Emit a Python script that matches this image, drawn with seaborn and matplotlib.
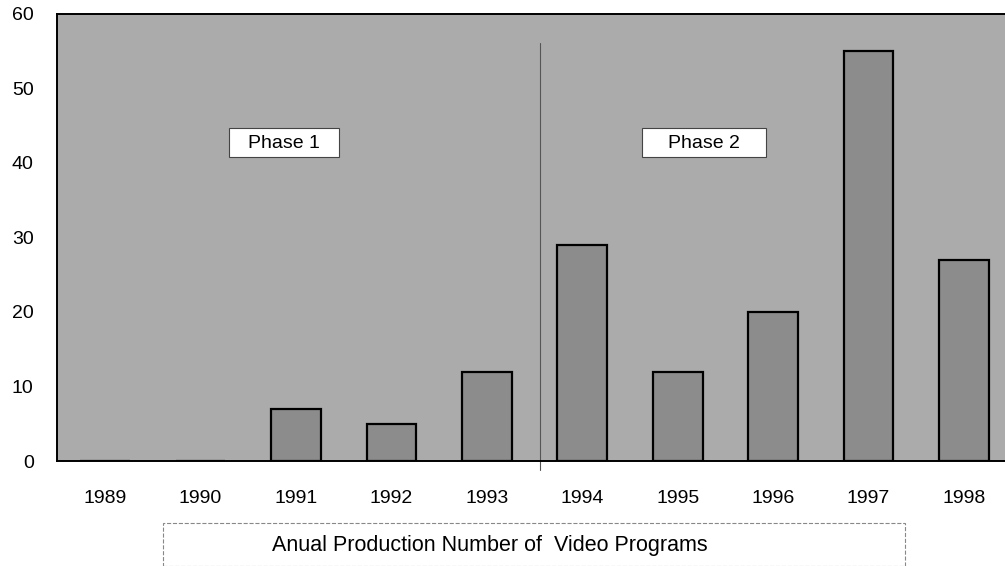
import seaborn as sns
import matplotlib.pyplot as plt
import matplotlib.patches as mpatches
import pandas

years = ['1989', '1990', '1991', '1992', '1993', '1994', '1995', '1996', '1997', '1998']
programs = [0, 0, 7, 5, 12, 29, 12, 20, 55, 27]

sns.set_style('white')
plt.rcParams['font.family'] = ['Liberation Sans', 'DejaVu Sans']
plt.rcParams['text.color'] = 'black'
plt.rcParams['xtick.color'] = 'black'
plt.rcParams['ytick.color'] = 'black'

df = pandas.DataFrame({'year': years, 'programs': programs})

fig = plt.figure(figsize=(10.05, 5.66), dpi=100)
ax = fig.add_axes([0.057, 0.1855, 0.945, 0.79])
ax.set_facecolor('#ababab')

sns.barplot(data=df, x='year', y='programs', order=years, color='#8c8c8c',
            saturation=1, width=0.52, edgecolor='black', linewidth=1.6, ax=ax)

ax.set_xlim(-0.5, 9.45)
ax.set_ylim(0, 60)
ax.set_yticks(range(0, 61, 10))
ax.tick_params(axis='both', length=0, labelsize=14, labelcolor='black')
ax.tick_params(axis='y', pad=17)
ax.tick_params(axis='x', pad=21)
ax.set_xlabel('')
ax.set_ylabel('')
for s in ['left', 'top', 'bottom']:
    ax.spines[s].set_color('black')
    ax.spines[s].set_linewidth(1.4)
ax.spines['right'].set_visible(False)

# phase divider
ax.axvline(4.56, ymin=-0.02, ymax=0.935, color='#555555', linewidth=0.8, clip_on=False)

# phase labels
for x0, x1, label in [(1.296, 2.45, 'Phase 1'), (5.63, 6.93, 'Phase 2')]:
    ax.add_patch(mpatches.Rectangle((x0, 40.8), x1 - x0, 3.9, facecolor='white',
                                    edgecolor='#444444', linewidth=0.8, zorder=4))
    ax.text((x0 + x1) / 2, 42.6, label, ha='center', va='center', fontsize=14, zorder=5)

# caption box
fig.patches.append(mpatches.Rectangle((163 / 1005, 0.0), (905 - 163) / 1005, (566 - 523) / 566,
                                      transform=fig.transFigure, facecolor='white',
                                      edgecolor='#888888', linewidth=0.8, linestyle='--'))
fig.text(490 / 1005, 1 - 545 / 566, 'Anual Production Number of  Video Programs',
         ha='center', va='center', fontsize=15.5)

fig.savefig('out.png', dpi=100)
